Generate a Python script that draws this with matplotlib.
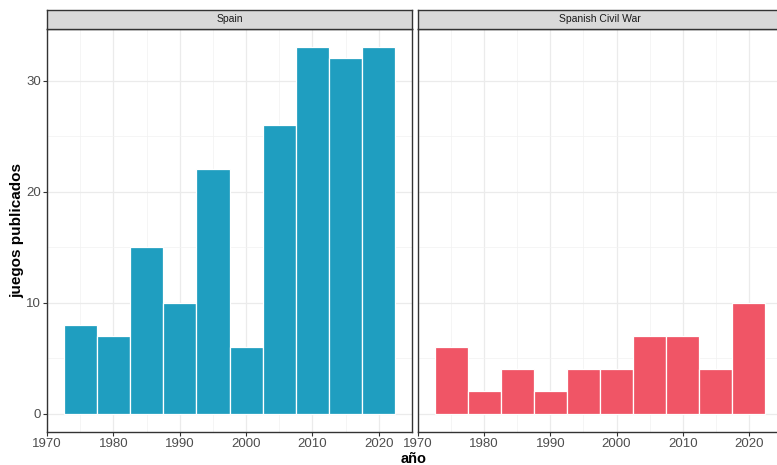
import matplotlib
matplotlib.use("Agg")
import matplotlib.pyplot as plt
import numpy as np

plt.rcParams['font.family'] = ['Liberation Sans', 'DejaVu Sans']

bin_centers = [1975, 1980, 1985, 1990, 1995, 2000, 2005, 2010, 2015, 2020]
spain = [8, 7, 15, 10, 22, 6, 26, 33, 32, 33]
civil_war = [6, 2, 4, 2, 4, 4, 7, 7, 4, 10]
panels = ["Spain", "Spanish Civil War"]
colors = ["#1F9EC0", "#F05566"]
xticks = [1970, 1980, 1990, 2000, 2010, 2020]
yticks = [0, 10, 20, 30]

W, H = 777, 465
fig = plt.figure(figsize=(W / 100, H / 100), dpi=100)

def fx(px):
    return px / W

def fy(py):
    return 1 - py / H

ymax = max(max(spain), max(civil_war))
ylim = (-0.05 * ymax, ymax * 1.05)
xlim = (1970, 2025)

left_px = [47, 418]
right_px = [412, 782]
top_px, bot_px, strip_top = 29, 432, 10
data = [spain, civil_war]

for i in range(2):
    ax = fig.add_axes([fx(left_px[i]), fy(bot_px), fx(right_px[i] - left_px[i]), (bot_px - top_px) / H])
    ax.set_xlim(*xlim)
    ax.set_ylim(*ylim)
    ax.set_xticks(xticks)
    ax.set_xticks(np.arange(1975, 2025, 10), minor=True)
    ax.set_yticks(yticks)
    ax.set_yticks([5, 15, 25], minor=True)
    ax.grid(True, which="major", color="#EBEBEB", lw=0.9)
    ax.grid(True, which="minor", color="#F2F2F2", lw=0.5)
    ax.set_axisbelow(True)
    ax.bar(bin_centers, data[i], width=5, color=colors[i], edgecolor="white", linewidth=0.9)
    for s in ax.spines.values():
        s.set_color("#333333")
        s.set_linewidth(1.0)
    ax.tick_params(axis="both", which="major", length=3, color="#333333", labelcolor="#4D4D4D", labelsize=9.5, pad=1.5)
    ax.tick_params(axis="both", which="minor", length=0)
    if i == 1:
        ax.tick_params(axis="y", which="major", length=0, labelleft=False)
    # strip
    sax = fig.add_axes([fx(left_px[i]), fy(top_px), fx(right_px[i] - left_px[i]), (top_px - strip_top) / H])
    sax.set_facecolor("#D9D9D9")
    sax.set_xticks([])
    sax.set_yticks([])
    for s in sax.spines.values():
        s.set_color("#333333")
        s.set_linewidth(1.0)
    sax.text(0.5, 0.5, panels[i], ha="center", va="center", fontsize=7.5, color="#1A1A1A", transform=sax.transAxes)

fig.text(fx(17), fy((top_px + bot_px) / 2), "juegos publicados", rotation=90, ha="center", va="center",
         fontsize=11, fontweight="bold")
fig.text(fx(414), fy(463), "año", ha="center", va="baseline", fontsize=10.5, fontweight="bold")

fig.savefig("out.png", dpi=100)
